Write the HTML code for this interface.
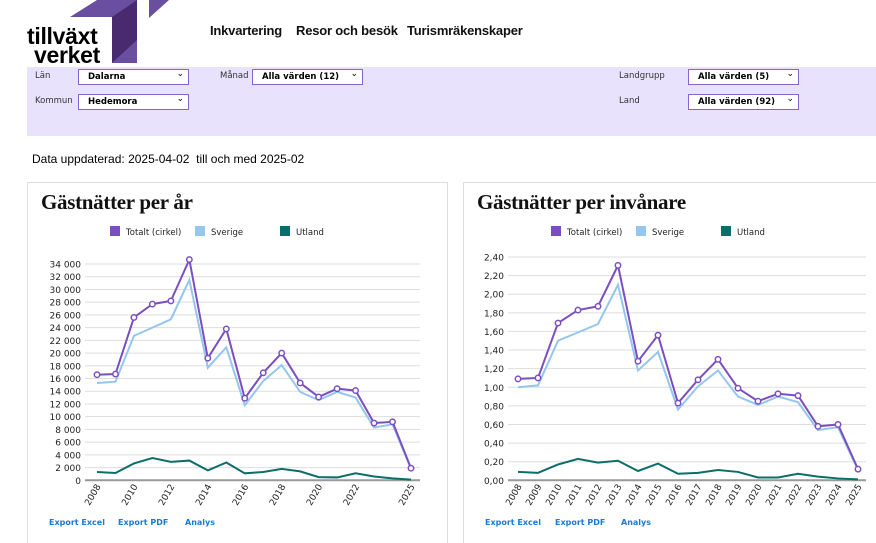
<!DOCTYPE html>
<html><head><meta charset="utf-8"><style>
body{margin:0;width:876px;height:538px;overflow:hidden;background:#fff;font-family:"DejaVu Sans","Liberation Sans",sans-serif;position:relative}
.abs{position:absolute}
.nav{font-family:"Liberation Sans",sans-serif;font-weight:bold;font-size:13px;top:23px;color:#111;letter-spacing:-0.2px}
.band{left:27px;top:67px;width:849px;height:69px;background:#e8e2fd}
.lbl{font-size:8.5px;color:#333}
.sel{background:#fff;border:1.5px solid #8a63d2;height:14px;font-size:8.5px;font-weight:bold;padding-left:9px;line-height:14px;box-sizing:content-box}
.sel:after{content:"⌄";position:absolute;right:4px;top:-3px;font-weight:normal;font-size:9px}
.panel{top:182px;height:360px;border:1px solid #ddd;border-bottom:none}
.title{font-family:"Liberation Serif",serif;font-weight:bold;font-size:21px;letter-spacing:-0.3px;color:#111}
.leg{font-size:8.5px;color:#222}
.sw{display:inline-block;width:10px;height:10px;vertical-align:-1px;margin-right:6px}
.exp{font-size:8px;font-weight:bold;color:#1a7ad4;top:518px}
</style></head><body>
<div class="abs" style="left:27px;top:0;width:150px;height:66px">
<svg width="150" height="66"><polygon points="43,17 70,0 110,0 110,63 85,63 85,17" fill="#6a4fa0"/><polygon points="85,17 110,0 110,40 85,63" fill="#4a2a6e"/><polygon points="122,0 142,0 122,18" fill="#6a4fa0"/></svg>
<div class="abs" style="left:0;top:27px;font-family:'Liberation Sans',sans-serif;font-weight:bold;font-size:23px;line-height:19px;letter-spacing:-0.3px">tillväxt<br><span style="padding-left:7px">verket</span></div></div>
<div class="abs nav" style="left:210px">Inkvartering</div>
<div class="abs nav" style="left:296px">Resor och besök</div>
<div class="abs nav" style="left:407px">Turismräkenskaper</div>
<div class="abs band"></div>
<div class="abs lbl" style="left:35px;top:71px">Län</div>
<div class="abs sel" style="left:78px;top:69px;width:100px">Dalarna</div>
<div class="abs lbl" style="left:35px;top:96px">Kommun</div>
<div class="abs sel" style="left:78px;top:94px;width:100px">Hedemora</div>
<div class="abs lbl" style="left:220px;top:71px">Månad</div>
<div class="abs sel" style="left:252px;top:69px;width:100px">Alla värden (12)</div>
<div class="abs lbl" style="left:619px;top:71px">Landgrupp</div>
<div class="abs sel" style="left:688px;top:69px;width:100px">Alla värden (5)</div>
<div class="abs lbl" style="left:619px;top:96px">Land</div>
<div class="abs sel" style="left:688px;top:94px;width:100px">Alla värden (92)</div>
<div class="abs" style="left:32px;top:152px;font-size:12px;font-family:'Liberation Sans',sans-serif">Data uppdaterad: 2025-04-02 &nbsp;till och med 2025-02</div>

<div class="abs panel" style="left:27px;width:419px"></div>
<div class="abs panel" style="left:463px;width:420px"></div>
<div class="abs title" style="left:41px;top:190px">Gästnätter per år</div>
<div class="abs title" style="left:477px;top:190px">Gästnätter per invånare</div>
<div class="abs leg" style="left:110px;top:226px"><span class="sw" style="background:#7b4fc0"></span>Totalt (cirkel)</div>
<div class="abs leg" style="left:195px;top:226px"><span class="sw" style="background:#94c6ee"></span>Sverige</div>
<div class="abs leg" style="left:280px;top:226px"><span class="sw" style="background:#0c6e6b"></span>Utland</div>
<div class="abs leg" style="left:551px;top:226px"><span class="sw" style="background:#7b4fc0"></span>Totalt (cirkel)</div>
<div class="abs leg" style="left:636px;top:226px"><span class="sw" style="background:#94c6ee"></span>Sverige</div>
<div class="abs leg" style="left:721px;top:226px"><span class="sw" style="background:#0c6e6b"></span>Utland</div>
<div class="abs exp" style="left:49px">Export Excel</div>
<div class="abs exp" style="left:118px">Export PDF</div>
<div class="abs exp" style="left:185px">Analys</div>
<div class="abs exp" style="left:485px">Export Excel</div>
<div class="abs exp" style="left:555px">Export PDF</div>
<div class="abs exp" style="left:621px">Analys</div>
<svg class="abs" style="left:0;top:0" width="876" height="538" id="charts"></svg>
<script>
const years=[2008,2009,2010,2011,2012,2013,2014,2015,2016,2017,2018,2019,2020,2021,2022,2023,2024,2025];
const totalA=[16600,16700,25600,27700,28200,34700,19200,23800,12900,16900,20000,15300,13100,14400,14100,9000,9200,1900];
const sverigeA=[15300,15500,22700,24000,25300,31500,17700,20900,11800,15600,18100,13900,12600,13900,13000,8300,8800,1800];
const utlandA=[1300,1150,2650,3500,2900,3100,1550,2800,1100,1300,1800,1400,500,450,1100,600,300,100];
const totalB=[1.09,1.10,1.69,1.83,1.87,2.31,1.28,1.56,0.83,1.08,1.30,0.99,0.85,0.93,0.91,0.58,0.60,0.12];
const sverigeB=[1.00,1.02,1.50,1.59,1.68,2.10,1.18,1.38,0.76,1.01,1.18,0.90,0.81,0.90,0.84,0.54,0.57,0.11];
const utlandB=[0.09,0.08,0.17,0.23,0.19,0.21,0.10,0.18,0.07,0.08,0.11,0.09,0.03,0.03,0.07,0.04,0.02,0.01];
const ticksA=[0,2000,4000,6000,8000,10000,12000,14000,16000,18000,20000,22000,24000,26000,28000,30000,32000,34000];
const ticksB=[0,0.2,0.4,0.6,0.8,1.0,1.2,1.4,1.6,1.8,2.0,2.2,2.4];
const xLabelsA=[2008,2010,2012,2014,2016,2018,2020,2022,2025];
const svg=document.getElementById('charts');const NS='http://www.w3.org/2000/svg';
function mk(t,a){const e=document.createElementNS(NS,t);for(const k in a)e.setAttribute(k,a[k]);svg.appendChild(e);return e;}
function chart(id,x0,x1,gx0,gx1,yTop,maxV,ticks,fmt,xl,tot,sv,ut){
 const yB=480.3;
 const X=i=>x0+(x1-x0)*i/(years.length-1);
 const Y=v=>yB-(yB-yTop)*v/maxV;
 ticks.forEach(t=>{const l=mk('line',{x1:gx0,x2:gx1,y1:Y(t),y2:Y(t),stroke:t===0?'#999':'#ddd','stroke-width':t===0?2:1});
  
  const tx=mk('text',{x:gx0-4,y:Y(t)+3.5,'text-anchor':'end','font-size':9,fill:'#222','font-family':'DejaVu Sans,sans-serif'});tx.textContent=fmt(t);
  });
 years.forEach((yr,i)=>{if(xl&&!xl.includes(yr))return;const tx=mk('text',{transform:`translate(${X(i)+4},${yB+6}) rotate(-60)`,'text-anchor':'end','font-size':9,fill:'#222','font-family':'DejaVu Sans,sans-serif'});tx.textContent=yr;
  });
 [[ut,'#0c6e6b','utland'],[sv,'#94c6ee','sverige'],[tot,'#7b4fc0','totalt']].forEach(([d,c,n])=>{
  const p=mk('polyline',{points:d.map((v,i)=>X(i)+','+Y(v)).join(' '),fill:'none',stroke:c,'stroke-width':2});
  });
 tot.forEach((v,i)=>{const c=mk('circle',{cx:X(i),cy:Y(v),r:2.7,fill:'#fff',stroke:'#7b4fc0','stroke-width':1.5});
  });
}
const fmtA=v=>v===0?'0':(v>=1000?Math.floor(v/1000)+' '+String(v%1000).padStart(3,'0'):String(v));
const fmtB=v=>v.toFixed(2).replace('.',',');
chart('chart1',97,411,85,420,264,34000,ticksA,fmtA,xLabelsA,totalA,sverigeA,utlandA);
chart('chart2',518,858,508,866,257,2.4,ticksB,fmtB,null,totalB,sverigeB,utlandB);
</script>
</body></html>
